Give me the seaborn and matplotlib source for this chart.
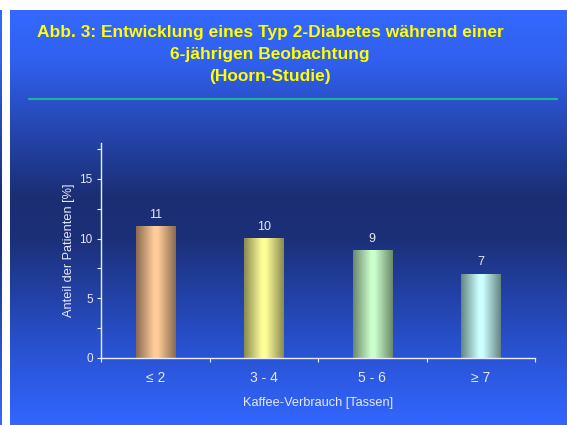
import numpy as np
import pandas as pd
import matplotlib
matplotlib.use("Agg")
import matplotlib.pyplot as plt
from matplotlib.colors import LinearSegmentedColormap
import seaborn as sns

# Data
categories = ["\u2264 2", "3 - 4", "5 - 6", "\u2265 7"]
shares = [11, 10, 9, 7]
title = "Abb. 3: Entwicklung eines Typ 2-Diabetes während einer\n6-jährigen Beobachtung\n(Hoorn-Studie)"
xlabel = "Kaffee-Verbrauch [Tassen]"
ylabel = "Anteil der Patienten [%]"

# Bar colours: (centre highlight, edge shade)
bar_colors = [("#FFCC99", "#8A6A50"), ("#FFFF99", "#8A8A50"),
              ("#CCFFCC", "#6A886A"), ("#CCFFFF", "#648484")]

sns.set_theme(style="white")
plt.rcParams["font.family"] = ["Liberation Sans", "DejaVu Sans"]

W, H = 567, 425
fig = plt.figure(figsize=(W / 100, H / 100), dpi=100)
fig.patch.set_facecolor("white")

# Vertical background gradient: bright blue - dark navy - bright blue
bg_cmap = LinearSegmentedColormap.from_list(
    "bg", [(0.0, "#3468FF"), (0.12, "#3060EE"), (0.45, "#1B2E74"),
           (0.55, "#1C3078"), (0.8, "#2850CC"), (1.0, "#3366FF")])
grad = np.linspace(0, 1, 256).reshape(-1, 1)

panel_top = 1 - 10 / H
bg = fig.add_axes([10 / W, 0, 1 - 10 / W, panel_top])
bg.imshow(grad, aspect="auto", cmap=bg_cmap, extent=[0, 1, 0, 1], origin="upper")
bg.set_axis_off()

strip = fig.add_axes([0, 0, 2 / W, panel_top])
strip.imshow(grad, aspect="auto", cmap=bg_cmap, extent=[0, 1, 0, 1], origin="upper")
strip.set_axis_off()

# Title and separator line
fig.text(270 / W, 1 - 54.5 / H, title, ha="center", va="center", color="#FFFF00",
         fontsize=12.5, fontweight="bold", linespacing=1.6)
fig.add_artist(plt.Line2D([29 / W, 557 / W], [1 - 99 / H, 1 - 99 / H],
                          color="#20B2A0", lw=1.6))

# Chart area
ax = fig.add_axes([101 / W, 1 - 358 / H, 434 / W, 215 / H])
ax.patch.set_alpha(0)
df = pd.DataFrame({"cat": categories, "val": shares})
sns.barplot(data=df, x="cat", y="val", ax=ax, width=0.36, color="#cccccc",
            saturation=1, errorbar=None)

text_color = "#E6E8F5"

# Cylinder-like horizontal shading for each bar
for patch, (light, dark) in zip(ax.patches, bar_colors):
    x0 = patch.get_x()
    w = patch.get_width()
    h = patch.get_height()
    cmap = LinearSegmentedColormap.from_list(
        "b", [(0.0, dark), (0.45, light), (0.55, light), (1.0, dark)])
    ax.imshow(np.linspace(0, 1, 128).reshape(1, -1), cmap=cmap, aspect="auto",
              extent=[x0, x0 + w, 0, h], zorder=2, interpolation="bilinear")
    patch.set_visible(False)
    ax.text(x0 + w / 2, h + 0.5, f"{h:g}", ha="center", va="bottom",
            color=text_color, fontsize=9)

ax.set_xlim(-0.5, 3.5)
ax.set_ylim(0, 18)

for side in ["top", "right"]:
    ax.spines[side].set_visible(False)
for side in ["left", "bottom"]:
    ax.spines[side].set_color("#E8ECFF")
    ax.spines[side].set_linewidth(1.0)

ax.set_yticks([0, 5, 10, 15])
ax.set_yticks([2.5, 7.5, 12.5, 17.5], minor=True)
ax.set_xticks([0, 1, 2, 3])
ax.set_xticks([-0.5, 0.5, 1.5, 2.5, 3.5], minor=True)
ax.tick_params(axis="y", which="both", left=True, direction="out", length=3,
               width=0.8, color="#E8ECFF", labelcolor=text_color, labelsize=8.5, pad=3)
ax.tick_params(axis="x", which="major", bottom=False, labelcolor=text_color,
               labelsize=10, pad=3)
ax.tick_params(axis="x", which="minor", bottom=True, direction="out", length=3,
               width=0.8, color="#E8ECFF")
ax.set_xlabel(xlabel, color=text_color, fontsize=9.2, labelpad=9)
ax.set_ylabel(ylabel, color=text_color, fontsize=9.2, labelpad=3)
ax.grid(False)

fig.savefig("out.png", dpi=100)
